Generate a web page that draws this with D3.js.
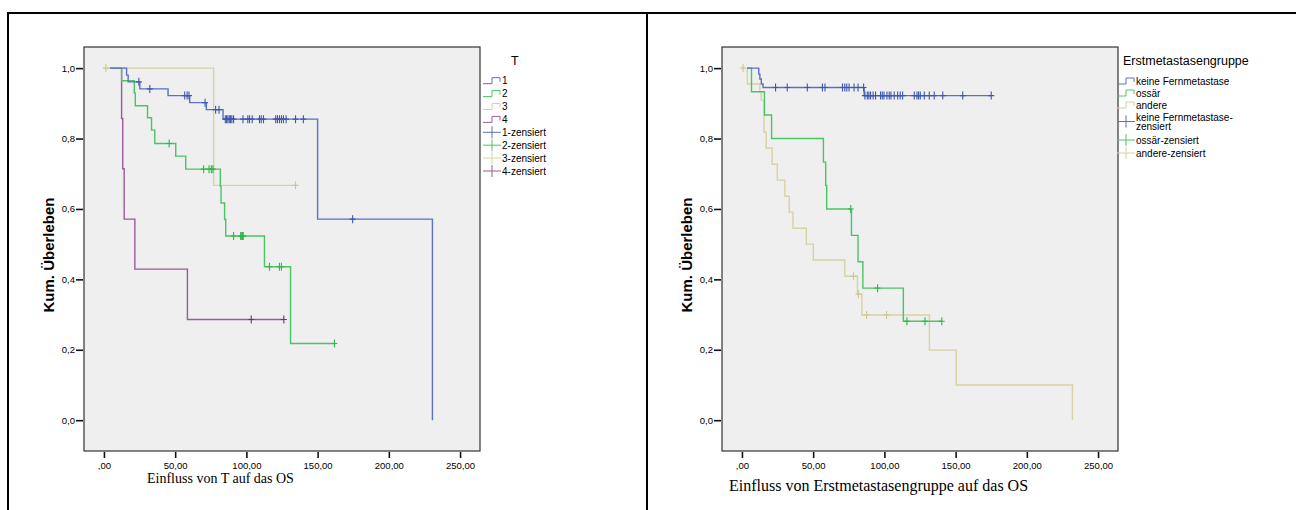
<!DOCTYPE html>
<html>
<head>
<meta charset="utf-8">
<script src="https://cdn.jsdelivr.net/npm/d3@7"></script>
<style>
  body { margin: 0; background: #fff; }
  svg { display: block; font-family: "Liberation Sans", Arial, sans-serif; }
  .tick text { font-size: 9.5px; fill: #000; }
  .tick line { stroke: #111; stroke-width: 1.6; }
  .leg { font-size: 10px; }
</style>
</head>
<body>
<div id="chart"></div>
<script>
// ---- data (months, cumulative survival) ----
const timeTicks = [0, 50, 100, 150, 200, 250];
const survTicks = [0, 0.2, 0.4, 0.6, 0.8, 1.0];

// left chart: T stage
const tGroups = ["1", "2", "3", "4"];
const tStarts = [4.2, 4.2, 1.4, 4.2];
const tEnds = [230.6, 161.8, 134.5, 126.3];
const t1Steps = [[15.9, 0.98], [17, 0.961], [25.2, 0.941], [45, 0.922], [60.2, 0.902], [71.9, 0.882], [83.6, 0.855], [150, 0.571], [230.6, 0]];
const t1Censored = [24.5, 32.2, 56.7, 58.4, 59.7, 71, 78.4, 80.8, 85.2, 86.1, 87, 88, 88.9, 89.8, 91, 97.6, 101, 102.2, 104.1, 109.2, 110.4, 112, 120.6, 121.8, 123.2, 124.6, 126, 127.9, 134.5, 140, 174.6];
const t2Steps = [[12.4, 0.964], [21.3, 0.929], [22, 0.893], [30.6, 0.859], [33.4, 0.824], [35.7, 0.786], [50.4, 0.75], [57.4, 0.713], [81.7, 0.665], [82.2, 0.617], [84.7, 0.57], [85.5, 0.523], [112.7, 0.436], [131, 0.218]];
const t2Censored = [45.8, 70, 73.8, 75.4, 76.5, 91, 96, 96.7, 97.3, 97.8, 116.2, 123.2, 124.6, 161.8];
const t3Steps = [[77, 0.667]];
const t3Censored = [1.4, 134.5];
const t4Steps = [[12.4, 0.857], [13.2, 0.714], [14.2, 0.571], [21.7, 0.429], [58.6, 0.286]];
const t4Censored = [103.4, 126.3];

// right chart: first metastasis group
const mGroups = ["keine Fernmetastase", "ossär", "andere"];
const mStarts = [3.6, 3.6, 3.6];
const mEnds = [175, 140.3, 232];
const m1Steps = [[11.8, 0.983], [12.6, 0.969], [13.6, 0.955], [14.8, 0.945], [85.8, 0.922]];
const m1Censored = [23.6, 31.8, 45.9, 56.5, 58.3, 70.6, 72.2, 73.6, 75.2, 78.7, 81.5, 85.4, 86.3, 88, 89.1, 90.3, 92.1, 93.8, 97.3, 98.5, 99.7, 101.8, 103.4, 104.6, 106.9, 109.3, 111.1, 112.8, 121, 122.9, 124, 125.2, 128, 131.5, 135, 141, 155, 175];
const m2Steps = [[6.7, 0.933], [15.8, 0.867], [20.8, 0.8], [57.2, 0.733], [58.8, 0.667], [59.5, 0.6], [76.9, 0.525], [81.5, 0.45], [84.9, 0.375], [113.3, 0.281]];
const m2Censored = [76.4, 95.2, 115.8, 128.5, 140.3];
const m3Steps = [[3.8, 0.955], [12.6, 0.932], [13.5, 0.909], [15.5, 0.818], [17, 0.773], [21.2, 0.727], [24.8, 0.682], [30.1, 0.636], [33.2, 0.591], [35.8, 0.545], [45.2, 0.5], [50.1, 0.455], [72.2, 0.409], [81.1, 0.358], [84.2, 0.299], [131.6, 0.199], [150.4, 0.1], [232, 0]];
const m3Censored = [0.8, 78.3, 81.8, 87.5, 101.5];

const lineColors = ["#5b70c2", "#4cc464", "#d8d2a4", "#9a5a9c"];
const markColors = ["#3e58ac", "#2eb848", "#cdc68e", "#7c287d"];

class KMChart {

    constructor(svg, left, captionText, captionX, captionY, captionSize) {
        this.svg = svg;
        this.left = left;
        this.frame = { x: left + 76, y: 47, w: 396, h: 404 };
        this.captionText = captionText;
        this.captionX = captionX;
        this.captionY = captionY;
        this.captionSize = captionSize;

        this.x = d3.scaleLinear().domain([-14, 264]).range([this.frame.x, this.frame.x + this.frame.w]);
        this.y = d3.scaleLinear().domain([-0.0875, 1.06]).range([this.frame.y + this.frame.h, this.frame.y]);
    }

    // value of the step function at time t
    survAt(steps, t) {
        let s = 1;
        steps.forEach(d => { if (d[0] <= t) s = d[1]; });
        return s;
    }

    draw(series) {
        let that = this;
        let g = this.svg.append("g");

        g.append("rect")
            .attr("x", this.frame.x).attr("y", this.frame.y)
            .attr("width", this.frame.w).attr("height", this.frame.h)
            .attr("fill", "#efefef")
            .attr("stroke", "#333").attr("stroke-width", 1.2);

        // axes
        g.append("g")
            .attr("transform", "translate(" + (this.frame.x - 1) + ",0)")
            .call(d3.axisLeft(this.y).tickValues(survTicks).tickSize(7).tickPadding(1)
                .tickFormat(d => d3.format(".1f")(d).replace(".", ",")))
            .call(a => a.select(".domain").remove());

        g.append("g")
            .attr("transform", "translate(0," + (this.frame.y + this.frame.h + 1) + ")")
            .call(d3.axisBottom(this.x).tickValues(timeTicks).tickSize(6).tickPadding(4)
                .tickFormat(d => d === 0 ? ",00" : d3.format(".2f")(d).replace(".", ",")))
            .call(a => a.select(".domain").remove());

        g.append("text")
            .attr("transform", "translate(" + (this.left + 46) + "," + (this.frame.y + 208) + ")rotate(-90)")
            .attr("text-anchor", "middle")
            .style("font", "bold 15px 'Liberation Sans', Arial, sans-serif")
            .text("Kum. Überleben");

        g.append("text")
            .attr("x", this.captionX).attr("y", this.captionY)
            .style("font", this.captionSize + "px 'Liberation Serif', 'Times New Roman', serif")
            .text(this.captionText);

        let line = d3.line()
            .x(d => that.x(d[0]))
            .y(d => that.y(d[1]))
            .curve(d3.curveStepAfter);

        // draw in reverse so the first group sits on top
        series.slice().reverse().forEach(function(s) {
            let pts = [[s.start, 1]].concat(s.steps);
            let last = pts[pts.length - 1];
            if (last[0] < s.end) pts.push([s.end, last[1]]);

            g.append("path")
                .attr("d", line(pts))
                .attr("fill", "none")
                .attr("stroke", s.color)
                .attr("stroke-width", 1.4);

            g.selectAll(null)
                .data(s.censored)
                .enter().append("path")
                .attr("d", function(t) {
                    let cx = that.x(t), cy = that.y(that.survAt(s.steps, t));
                    return "M" + (cx - 3) + "," + cy + "H" + (cx + 3) + "M" + cx + "," + (cy - 4) + "V" + (cy + 4);
                })
                .attr("stroke", s.mark)
                .attr("stroke-width", 1.1)
                .attr("fill", "none");
        });
    }

    legend(title, titleX, titleY, rows) {
        let g = this.svg.append("g");
        g.append("text")
            .attr("x", titleX).attr("y", titleY)
            .style("font-size", "12.5px")
            .text(title);

        rows.forEach(function(r) {
            let x0 = r.x, y0 = r.y;
            if (r.censor) {
                g.append("path")
                    .attr("d", "M" + x0 + "," + y0 + "H" + (x0 + 18) + "M" + (x0 + 9) + "," + (y0 - 6) + "V" + (y0 + 6))
                    .attr("stroke", r.color).attr("stroke-width", 1).attr("fill", "none");
            } else {
                g.append("path")
                    .attr("d", "M" + x0 + "," + (y0 + 3) + "H" + (x0 + 9) + "V" + (y0 - 3) + "H" + (x0 + 17) + "V" + (y0 + 1))
                    .attr("stroke", r.color).attr("stroke-width", 1).attr("fill", "none");
            }
            r.lines.forEach(function(txt, i) {
                g.append("text")
                    .attr("class", "leg")
                    .attr("x", x0 + 19).attr("y", r.textY[i] + 3.5)
                    .text(txt);
            });
        });
    }
}

let svg = d3.select("#chart").append("svg")
    .attr("width", 1296)
    .attr("height", 510);

// outer table lines
svg.append("path")
    .attr("d", "M8,510V13H1296M647,13V510")
    .attr("fill", "none")
    .attr("stroke", "#000")
    .attr("stroke-width", 2);

let tSteps = [t1Steps, t2Steps, t3Steps, t4Steps];
let tCens = [t1Censored, t2Censored, t3Censored, t4Censored];
let leftChart = new KMChart(svg, 8, "Einfluss von T auf das OS", 147, 483, 14);
leftChart.draw(tGroups.map((name, i) => ({
    name: name, start: tStarts[i], end: tEnds[i], steps: tSteps[i], censored: tCens[i],
    color: lineColors[i], mark: markColors[i]
})));
let tRows = [];
tGroups.forEach((name, i) => {
    let yy = 80.7 + i * 12.9;
    tRows.push({ x: 483, y: yy, textY: [yy], color: lineColors[i], lines: [name] });
});
tGroups.forEach((name, i) => {
    let yy = 80.7 + (i + 4) * 12.9;
    tRows.push({ x: 483, y: yy, textY: [yy], color: lineColors[i], censor: true, lines: [name + "-zensiert"] });
});
leftChart.legend("T", 511, 65, tRows);

let mSteps = [m1Steps, m2Steps, m3Steps];
let mCens = [m1Censored, m2Censored, m3Censored];
let rightChart = new KMChart(svg, 646, "Einfluss von Erstmetastasengruppe auf das OS", 729, 491, 16);
rightChart.draw(mGroups.map((name, i) => ({
    name: name, start: mStarts[i], end: mEnds[i], steps: mSteps[i], censored: mCens[i],
    color: lineColors[i], mark: markColors[i]
})));
let mRowY = [81, 93, 105, 121.5, 140, 153];
let mRows = [];
mGroups.forEach((name, i) => mRows.push({ x: 1117, y: mRowY[i], textY: [mRowY[i]], color: lineColors[i], lines: [name] }));
mRows.push({ x: 1117, y: mRowY[3], textY: [117, 126.5], color: lineColors[0], censor: true, lines: ["keine Fernmetastase-", "zensiert"] });
mRows.push({ x: 1117, y: mRowY[4], textY: [mRowY[4]], color: lineColors[1], censor: true, lines: ["ossär-zensiert"] });
mRows.push({ x: 1117, y: mRowY[5], textY: [mRowY[5]], color: lineColors[2], censor: true, lines: ["andere-zensiert"] });
rightChart.legend("Erstmetastasengruppe", 1123, 65, mRows);
</script>
</body>
</html>
